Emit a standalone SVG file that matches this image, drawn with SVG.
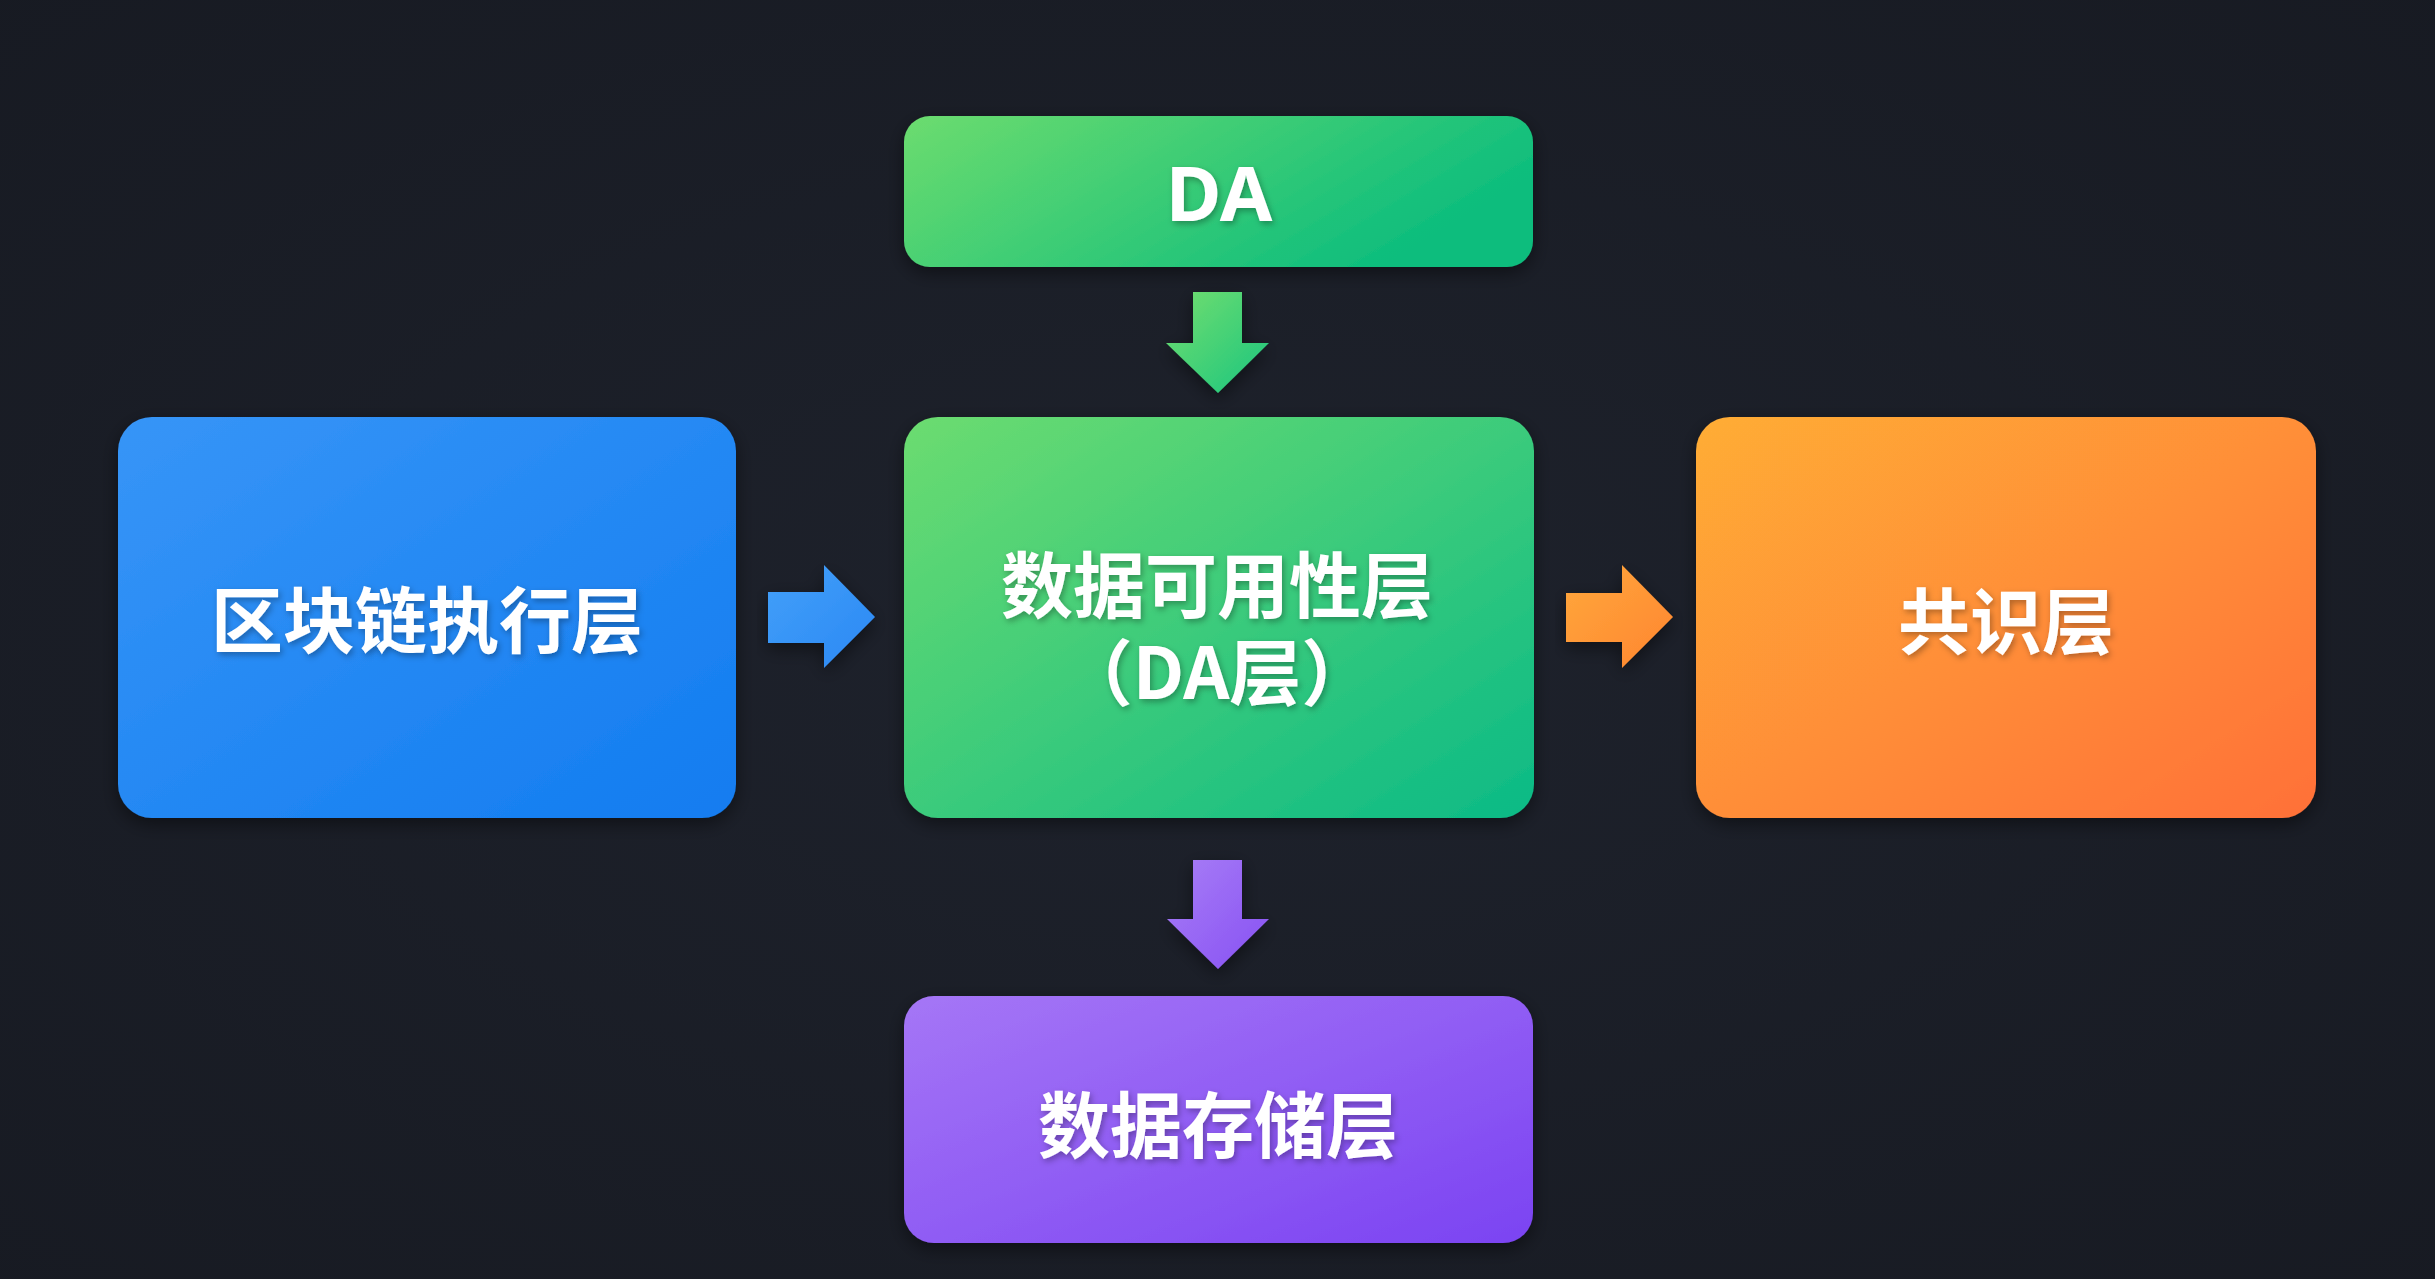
<svg xmlns="http://www.w3.org/2000/svg" width="2435" height="1279" viewBox="0 0 2435 1279">
  <defs>
    <radialGradient id="bg" cx="50%" cy="50%" r="75%">
      <stop offset="0" stop-color="#1e222c"/>
      <stop offset="1" stop-color="#171a22"/>
    </radialGradient>
    <linearGradient id="gBlue" x1="0" y1="0" x2="1" y2="1">
      <stop offset="0" stop-color="#3795f7"/>
      <stop offset="1" stop-color="#127cf0"/>
    </linearGradient>
    <linearGradient id="gGreen" x1="0" y1="0" x2="1" y2="1">
      <stop offset="0" stop-color="#6cdc70"/>
      <stop offset="1" stop-color="#0bba86"/>
    </linearGradient>
    <linearGradient id="gGreenDA" x1="0" y1="0" x2="1" y2="0.4">
      <stop offset="0" stop-color="#6cdc6e"/>
      <stop offset="1" stop-color="#0dbd7d"/>
    </linearGradient>
    <linearGradient id="gOrange" x1="0" y1="0" x2="1" y2="1">
      <stop offset="0" stop-color="#ffad36"/>
      <stop offset="1" stop-color="#ff7038"/>
    </linearGradient>
    <linearGradient id="gPurple" x1="0" y1="0" x2="1" y2="1">
      <stop offset="0" stop-color="#a576f6"/>
      <stop offset="1" stop-color="#7b43f2"/>
    </linearGradient>
    <linearGradient id="aBlue" x1="0" y1="0" x2="1" y2="1">
      <stop offset="0" stop-color="#43a0f9"/>
      <stop offset="1" stop-color="#2a88f4"/>
    </linearGradient>
    <linearGradient id="aOrange" x1="0" y1="0" x2="1" y2="1">
      <stop offset="0" stop-color="#ffa83c"/>
      <stop offset="1" stop-color="#ff8530"/>
    </linearGradient>
    <linearGradient id="aGreen" x1="0" y1="0" x2="1" y2="1">
      <stop offset="0" stop-color="#74de6e"/>
      <stop offset="1" stop-color="#18c57f"/>
    </linearGradient>
    <linearGradient id="aPurple" x1="0" y1="0" x2="1" y2="1">
      <stop offset="0" stop-color="#a87ef6"/>
      <stop offset="1" stop-color="#8750f3"/>
    </linearGradient>
    <filter id="boxShadow" x="-10%" y="-10%" width="120%" height="130%">
      <feDropShadow dx="0" dy="6" stdDeviation="9" flood-color="#000" flood-opacity="0.45"/>
    </filter>
    <filter id="textShadow" x="-10%" y="-20%" width="120%" height="150%">
      <feDropShadow dx="2" dy="3" stdDeviation="3" flood-color="#000" flood-opacity="0.3"/>
    </filter>
    <style>
      .box { filter: url(#boxShadow); }
      .lbl { fill: #ffffff; font-family: "Noto Sans CJK SC", "Noto Sans", sans-serif; font-weight: 700; font-size: 72px; text-anchor: middle; filter: url(#textShadow); }
      .lat { fill: #ffffff; font-family: "Noto Sans", "Noto Sans CJK SC", sans-serif; font-weight: 700; font-size: 76px; text-anchor: middle; filter: url(#textShadow); }
      .arrow { filter: url(#boxShadow); }
    </style>
  </defs>

  <rect x="0" y="0" width="2435" height="1279" fill="url(#bg)"/>

  <g id="node-da">
    <rect class="box" x="904" y="116" width="629" height="151" rx="26" fill="url(#gGreenDA)"/>
    <text class="lat" x="1219" y="221">DA</text>
  </g>

  <g id="node-exec">
    <rect class="box" x="118" y="417" width="618" height="401" rx="34" fill="url(#gBlue)"/>
    <text class="lbl" x="427" y="647">区块链执行层</text>
  </g>

  <g id="node-dal">
    <rect class="box" x="904" y="417" width="630" height="401" rx="34" fill="url(#gGreen)"/>
    <text class="lbl" x="1217" y="612"><tspan x="1217" y="612">数据可用性层</tspan><tspan x="1217" y="699">（DA层）</tspan></text>
  </g>

  <g id="node-consensus">
    <rect class="box" x="1696" y="417" width="620" height="401" rx="34" fill="url(#gOrange)"/>
    <text class="lbl" x="2006" y="648">共识层</text>
  </g>

  <g id="node-storage">
    <rect class="box" x="904" y="996" width="629" height="247" rx="30" fill="url(#gPurple)"/>
    <text class="lbl" x="1218" y="1152">数据存储层</text>
  </g>

  <g id="connectors">
    <path class="arrow" d="M1193,292 H1242 V343 H1269 L1218,393 L1166,343 H1193 Z" fill="url(#aGreen)"/>
    <path class="arrow" d="M768,592 H824 V565 L875,617 L824,668 V643 H768 Z" fill="url(#aBlue)"/>
    <path class="arrow" d="M1566,593 H1622 V565 L1673,617 L1622,668 V642 H1566 Z" fill="url(#aOrange)"/>
    <path class="arrow" d="M1193,860 H1242 V919 H1269 L1218,969 L1167,919 H1193 Z" fill="url(#aPurple)"/>
  </g>
</svg>
